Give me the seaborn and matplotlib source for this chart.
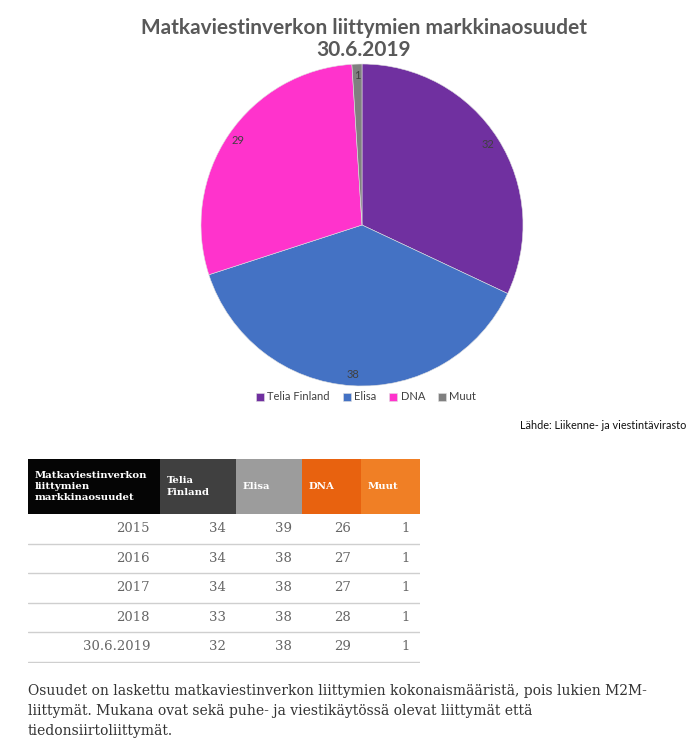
import matplotlib
matplotlib.use("Agg")
import matplotlib.pyplot as plt
import seaborn as sns
import numpy as np
from matplotlib.patches import Rectangle

# ---- data ----
operators = ["Telia Finland", "Elisa", "DNA", "Muut"]
shares_2019 = [32, 38, 29, 1]
pie_colors = ["#7030A0", "#4472C4", "#FF33CC", "#808080"]

table_years = ["2015", "2016", "2017", "2018", "30.6.2019"]
telia = [34, 34, 34, 33, 32]
elisa = [39, 38, 38, 38, 38]
dna = [26, 27, 27, 28, 29]
muut = [1, 1, 1, 1, 1]
table_headers = ["Matkaviestinverkon\nliittymien\nmarkkinaosuudet", "Telia\nFinland", "Elisa", "DNA", "Muut"]
header_colors = ["#050505", "#404040", "#9c9c9c", "#e8620f", "#f07f25"]

title = "Matkaviestinverkon liittymien markkinaosuudet\n30.6.2019"
source = "Lähde: Liikenne- ja viestintävirasto"
note = ("Osuudet on laskettu matkaviestinverkon liittymien kokonaismääristä, pois lukien M2M-\n"
        "liittymät. Mukana ovat sekä puhe- ja viestikäytössä olevat liittymät että\n"
        "tiedonsiirtoliittymät.")

sns.set_theme(style="white")
plt.rcParams["font.family"] = ["Lato", "DejaVu Sans"]

W, H = 687, 744
fig = plt.figure(figsize=(W / 100, H / 100), dpi=100)
fig.patch.set_facecolor("white")

def fx(px):
    return px / W

def fy(py):
    return 1 - py / H

# ---- title ----
fig.text(fx(364), fy(39), title, ha="center", va="center", fontsize=15,
         fontweight="bold", color="#595959", linespacing=1.1)

# ---- pie ----
cx, cy, r = 362, 225, 161
ax_pie = fig.add_axes([fx(cx - r), fy(cy + r), 2 * r / W, 2 * r / H])
wedges, texts = ax_pie.pie(shares_2019, colors=pie_colors, startangle=90,
                           counterclock=False, labels=[str(v) for v in shares_2019],
                           labeldistance=0.93,
                           wedgeprops=dict(linewidth=0.4, edgecolor="#e0e0e0"),
                           textprops=dict(fontsize=8, color="#404040"))
for t in texts:
    t.set_horizontalalignment("center")
    t.set_verticalalignment("center")
ax_pie.set_aspect("equal")
ax_pie.set_xlim(-1.0, 1.0)
ax_pie.set_ylim(-1.0, 1.0)
ax_pie.axis("off")

# legend
leg = fig.legend(wedges, operators, loc="center", bbox_to_anchor=(fx(366), fy(397)),
                 ncol=4, frameon=False, fontsize=8, handlelength=0.7, handleheight=0.7,
                 handletextpad=0.3, columnspacing=1.2, labelcolor="#404040")

fig.text(fx(686), fy(425), source, ha="right", va="center", fontsize=7.8, color="#111111")

# ---- table ----
tl, tt, tw, th = 28, 459, 392, 204
ax_t = fig.add_axes([fx(tl), fy(tt + th), tw / W, th / H])
col_w = [132, 76, 66, 59, 59]
edges = np.concatenate([[0], np.cumsum(col_w)])
header_h = 55
row_h = 29.5
ax_t.set_xlim(0, tw)
ax_t.set_ylim(th, 0)
ax_t.axis("off")

serif = ["DejaVu Serif"]
for i, (hdr, c) in enumerate(zip(table_headers, header_colors)):
    ax_t.add_patch(Rectangle((edges[i], 0), col_w[i], header_h, facecolor=c, edgecolor="none"))
    ax_t.text(edges[i] + 7, header_h / 2, hdr, ha="left", va="center", fontsize=7.3,
              fontweight="bold", color="white", family=serif, linespacing=1.35)

cols = [telia, elisa, dna, muut]
for j, yr in enumerate(table_years):
    yc = header_h + row_h * (j + 0.5)
    ax_t.text(edges[1] - 10, yc, yr, ha="right", va="center", fontsize=9.5,
              color="#666666", family=serif)
    for k, col in enumerate(cols):
        ax_t.text(edges[k + 2] - 10, yc, str(col[j]), ha="right", va="center",
                  fontsize=9.5, color="#666666", family=serif)
    ax_t.plot([0, tw], [header_h + row_h * (j + 1)] * 2, color="#cfcfcf", lw=1)

# ---- note ----
fig.text(fx(28), fy(711), note, ha="left", va="center", fontsize=10, color="#333333",
         family=serif, linespacing=1.5)

fig.savefig("out.png", dpi=100)
